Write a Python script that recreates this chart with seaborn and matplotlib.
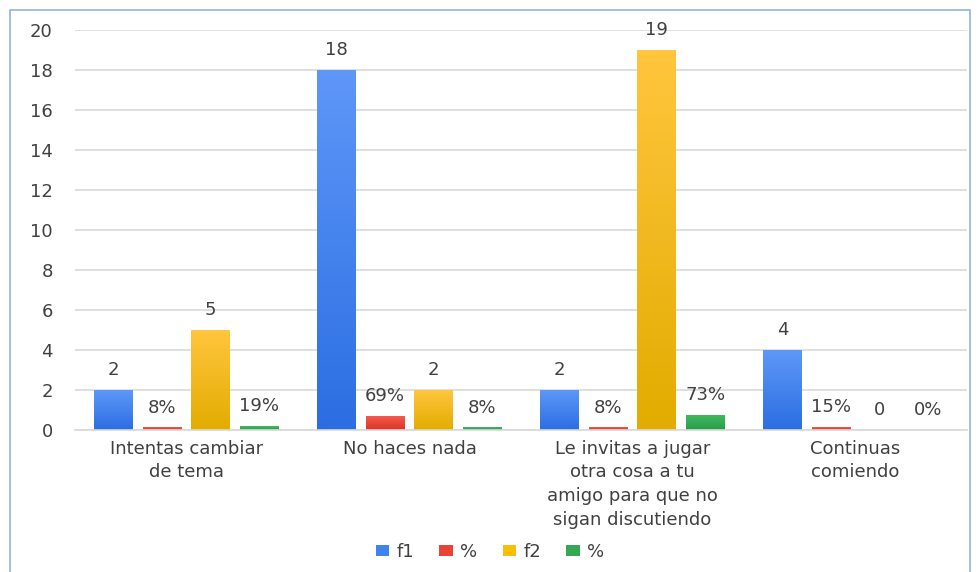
import matplotlib
matplotlib.use("Agg")
import matplotlib.pyplot as plt
import matplotlib.patches as patches
from matplotlib.colors import LinearSegmentedColormap
import numpy as np
import pandas as pd
import seaborn as sns

# data
categories = ["Intentas cambiar\nde tema", "No haces nada",
              "Le invitas a jugar\notra cosa a tu\namigo para que no\nsigan discutiendo",
              "Continuas\ncomiendo"]
f1 = [2, 18, 2, 4]
pct1 = [0.08, 0.69, 0.08, 0.15]
f2 = [5, 2, 19, 0]
pct2 = [0.19, 0.08, 0.73, 0.0]
series_keys = ["f1", "%", "f2", "% "]
legend_labels = ["f1", "%", "f2", "%"]
colors = ["#3F83F0", "#EA4335", "#FBBC0A", "#34A853"]
# gradient ends (top, bottom) for each series
grad = [("#5E97F8", "#2B6EE2"), ("#F25A4C", "#DE3328"),
        ("#FFC63E", "#E2AC00"), ("#3FB960", "#2A9B48")]

rows = []
for key, vals in zip(series_keys, [f1, pct1, f2, pct2]):
    for c, v in zip(categories, vals):
        rows.append({"cat": c, "serie": key, "valor": v})
df = pd.DataFrame(rows)

sns.set_style("white")
plt.rcParams['font.family'] = ['DejaVu Sans']
txt = "#404040"
fs = 13

fig = plt.figure(figsize=(9.8, 5.72), dpi=100)
ax = fig.add_axes([75 / 980, 1 - 430 / 572, 892 / 980, 400 / 572])

sns.barplot(data=df, x="cat", y="valor", hue="serie", hue_order=series_keys,
            palette=colors, width=0.87, gap=0.2, saturation=1, ax=ax,
            linewidth=0, legend=True)

ax.set_ylim(0, 20)
ax.set_xlim(-0.5, 3.5)

# vertical gradient on each bar
for container, (top, bot) in zip(ax.containers, grad):
    cmap = LinearSegmentedColormap.from_list("g", [bot, top])
    for bar in container:
        h = bar.get_height()
        if h <= 0:
            continue
        x0 = bar.get_x()
        w = bar.get_width()
        im = ax.imshow(np.linspace(0, 1, 100).reshape(-1, 1), cmap=cmap,
                       extent=[x0, x0 + w, 0, max(h, 0.12)], origin="lower",
                       aspect="auto", zorder=bar.get_zorder() + 0.1)
        if h >= 0.12:
            im.set_clip_path(bar)

for container, key in zip(ax.containers, series_keys):
    vals = [b.get_height() for b in container]
    if key.strip() == "%":
        labels = [f"{round(v * 100):.0f}%" for v in vals]
    else:
        labels = [f"{v:g}" for v in vals]
    ax.bar_label(container, labels=labels, padding=8, fontsize=fs, color=txt)

ax.set_ylim(0, 20)
ax.set_xlim(-0.5, 3.5)
ax.set_yticks(range(0, 21, 2))
ax.set_xlabel("")
ax.set_ylabel("")
ax.yaxis.grid(True, color="#d9d9d9", linewidth=1.2)
ax.set_axisbelow(True)
for s in ["top", "right", "left"]:
    ax.spines[s].set_visible(False)
ax.spines["bottom"].set_color("#d9d9d9")
ax.spines["bottom"].set_linewidth(1.2)
ax.tick_params(axis="both", length=0, labelsize=fs, colors=txt)
ax.tick_params(axis="y", pad=16)
ax.tick_params(axis="x", pad=7)
for lab in ax.get_xticklabels():
    lab.set_linespacing(1.4)

handles, _ = ax.get_legend_handles_labels()
ax.legend(handles, legend_labels, loc="center", bbox_to_anchor=(0.5, 1 - 552 / 572),
          bbox_transform=fig.transFigure, ncol=4, frameon=False, fontsize=fs,
          handlelength=0.75, handleheight=0.6, columnspacing=1.4, handletextpad=0.4,
          labelcolor=txt)

fig.patches.append(patches.Rectangle((10 / 980, -0.01), 960 / 980, 1 - 10 / 572 + 0.01,
                                     transform=fig.transFigure, fill=False,
                                     edgecolor="#8DB4E2", linewidth=1.2))

fig.savefig("out.png", dpi=100)
